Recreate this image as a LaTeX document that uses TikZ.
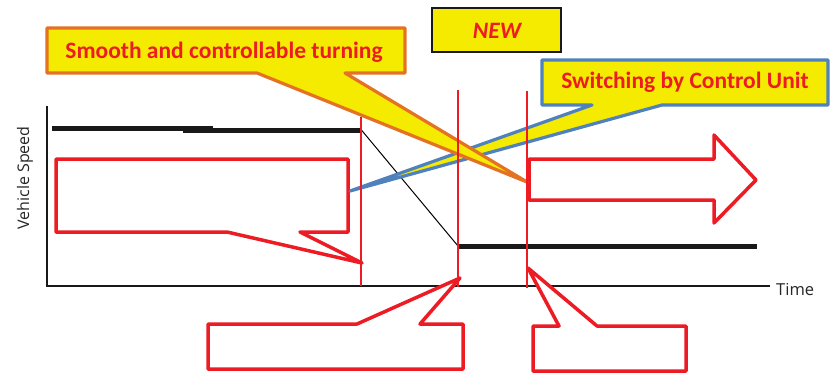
\documentclass[tikz,border=0pt]{standalone}
\usepackage{fontspec}
\setmainfont{Carlito}
\newfontfamily\axisfont{Open Sans}
\begin{document}
\begin{tikzpicture}[x=1pt,y=-1pt]
\definecolor{cyel}{RGB}{245,235,0}
\definecolor{cora}{RGB}{228,114,34}
\definecolor{cblu}{RGB}{79,129,189}
\definecolor{cred}{RGB}{237,28,36}
\tikzset{
  callout/.style={line width=3.2pt,line join=round},
  redcall/.style={draw=cred,fill=white,line width=3.5pt,line join=round},
  label/.style={text=cred,font=\bfseries\fontsize{23.5}{26}\selectfont,inner sep=0pt},
  axis/.style={line width=1.6pt,draw=black!90},
  speed/.style={line width=5pt,draw=black!90},
  mark line/.style={draw=cred,line width=1.3pt},
}
\useasboundingbox (0,0) rectangle (833,376);
% axes
\draw[axis] (47,106) -- (47,286) -- (770,286);
\node[inner sep=0pt,anchor=west,font=\axisfont\fontsize{16.5}{18}\selectfont,text=black!85] (time) at (776,290) {Time};
\node[inner sep=0pt,rotate=90,font=\axisfont\fontsize{16}{18}\selectfont,text=black!85] (vs) at (25,178) {Vehicle Speed};
% speed profile
\draw[speed] (52,128.8) -- (213,128.8);
\draw[speed] (183,130) -- (361,130);
\coordinate (p1) at (361,129.5);
\coordinate (p2) at (458,246);
\draw[line width=1pt] (p1) -- (p2);
\draw[speed] (p2) -- (757,246);
% red callouts
\draw[redcall] (56,159) -- (348,159) -- (348,232) -- (300,232) -- (362,263) -- (227,232) -- (56,232) -- cycle;
\draw[redcall] (208,324) -- (357,324) -- (460,278) -- (420,324) -- (463,324) -- (463,369) -- (208,369) -- cycle;
\draw[redcall] (533,326) -- (559,326) -- (528,268) -- (597,326) -- (686,326) -- (686,371) -- (533,371) -- cycle;
\draw[redcall] (529,159) -- (714,159) -- (714,135) -- (756,180) -- (714,223) -- (714,200) -- (529,200) -- cycle;
% blue callout
\draw[callout,draw=cblu,fill=cyel] (542,60) -- (828,60) -- (828,105) -- (662,105) -- (350,191) -- (592,105) -- (542,105) -- cycle;
\node[label] (switch) at (685,82) {Switching by Control Unit};
% orange callout
\draw[callout,draw=cora,fill=cyel] (47,28) -- (405,28) -- (405,73) -- (345,73) -- (527,182) -- (257,73) -- (47,73) -- cycle;
\node[label] (smooth) at (224,52) {Smooth and controllable turning};
% NEW box
\node[draw=black!90,line width=2pt,fill=cyel,minimum width=129pt,minimum height=44pt,inner sep=0pt] (new) at (496.5,30) {};
\node[text=cred,font=\bfseries\itshape\fontsize{23.5}{26}\selectfont,inner sep=0pt] (newt) at (497,31) {NEW};
% red vertical markers
\draw[mark line] (361,117) -- (361,286);
\draw[mark line] (458,90) -- (458,287);
\draw[mark line] (527,91) -- (527,288);
\end{tikzpicture}
\end{document}
